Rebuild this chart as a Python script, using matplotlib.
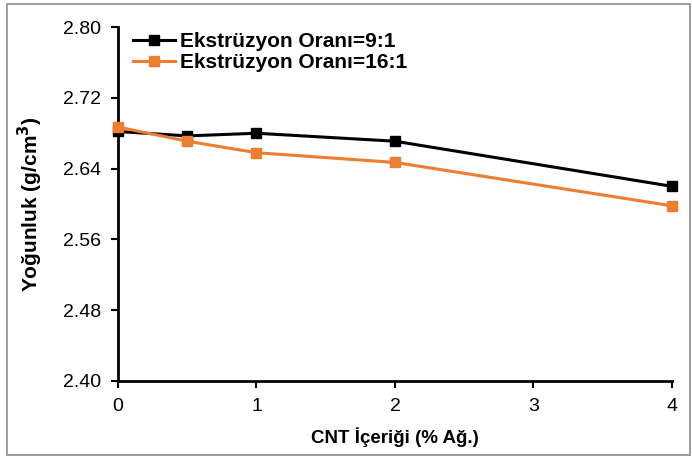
import matplotlib
matplotlib.use("Agg")
import matplotlib.pyplot as plt
from matplotlib.patches import Rectangle

plt.rcParams['font.family'] = ['Liberation Sans', 'DejaVu Sans']

x_vals = [0, 0.5, 1, 2, 4]
series_9 = [2.682, 2.677, 2.680, 2.671, 2.620]
series_16 = [2.687, 2.671, 2.658, 2.647, 2.598]
label_9 = "Ekstrüzyon Oranı=9:1"
label_16 = "Ekstrüzyon Oranı=16:1"
y_ticks = [2.40, 2.48, 2.56, 2.64, 2.72, 2.80]
x_ticks = [0, 1, 2, 3, 4]

fig = plt.figure(figsize=(6.92, 4.59), dpi=100)
ax = fig.add_axes([0.1705, 0.170, 0.8005, 0.771])

fig.patches.append(Rectangle((7/692, 4/459), 683/692, 451/459, transform=fig.transFigure,
                             fill=False, edgecolor='#8c8c8c', linewidth=1.2))

ax.plot(x_vals, series_9, color='black', marker='s', markersize=7, linewidth=2.2, label=label_9,
        clip_on=False, zorder=3)
ax.plot(x_vals, series_16, color='#ed7d31', marker='s', markersize=7, linewidth=2.2, label=label_16,
        clip_on=False, zorder=3)

ax.set_xlim(0, 4)
ax.set_ylim(2.40, 2.80)
ax.set_xticks(x_ticks)
ax.set_yticks(y_ticks)
ax.set_yticklabels([f"{v:.2f}" for v in y_ticks])
ax.tick_params(axis='both', labelsize=14, direction='out', length=5, width=1.5, colors='black')
ax.tick_params(axis='x', pad=7)
ax.tick_params(axis='y', pad=7)
for s in ['top', 'right']:
    ax.spines[s].set_visible(False)
for s in ['left', 'bottom']:
    ax.spines[s].set_linewidth(2)
    ax.spines[s].set_color('black')

ax.set_xlabel("CNT İçeriği (% Ağ.)", fontsize=13.5, fontweight='bold', labelpad=9)
ax.set_ylabel("Yoğunluk (g/cm$^\\mathbf{3}$)", fontsize=15, fontweight='bold', labelpad=13)

leg = ax.legend(loc='upper left', bbox_to_anchor=(0.027, 0.985), frameon=False,
                prop={'size': 15, 'weight': 'bold'}, handlelength=2.0, borderaxespad=0,
                borderpad=0, labelspacing=0.1, handletextpad=0.25)

fig.savefig("out.png", dpi=100)
